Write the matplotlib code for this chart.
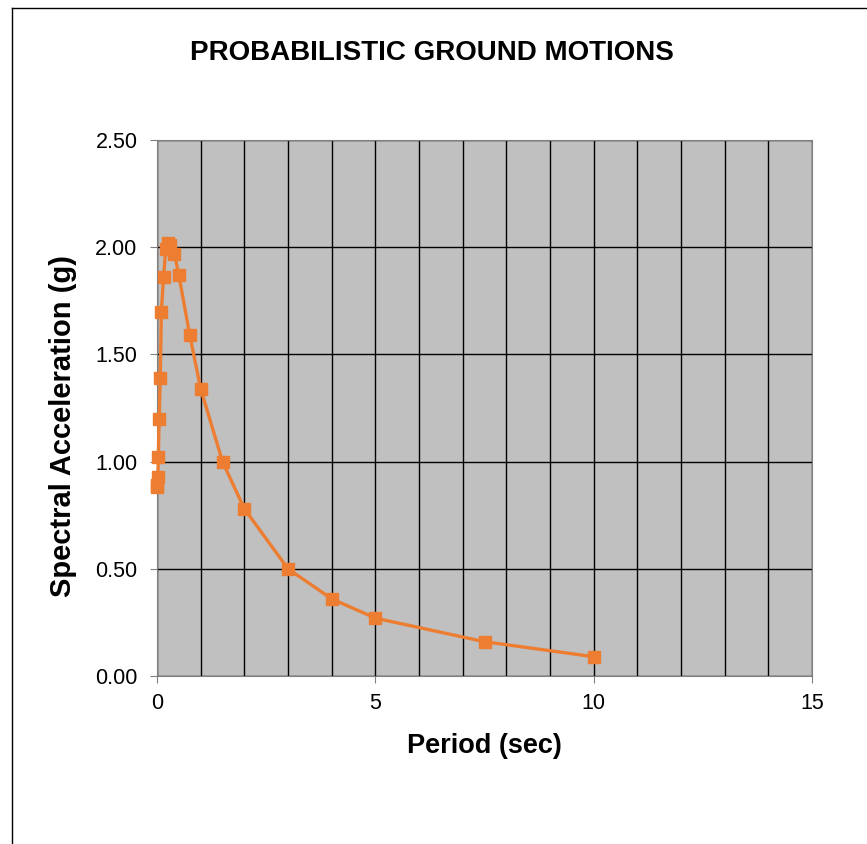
import numpy as np
import matplotlib.pyplot as plt
from matplotlib.lines import Line2D

plt.rcParams['font.family'] = ['Liberation Sans', 'DejaVu Sans']

# periode (s) et acceleration spectrale (g)
period = [0.0, 0.01, 0.02, 0.03, 0.05, 0.075, 0.1, 0.15, 0.2, 0.25, 0.3, 0.4,
          0.5, 0.75, 1.0, 1.5, 2.0, 3.0, 4.0, 5.0, 7.5, 10.0]
sa = [0.88, 0.89, 0.93, 1.02, 1.20, 1.39, 1.70, 1.86, 1.99, 2.02, 2.01, 1.97,
      1.87, 1.59, 1.34, 1.00, 0.78, 0.50, 0.36, 0.27, 0.16, 0.09]

xticks = [0, 5, 10, 15]
yticks = [0.0, 0.5, 1.0, 1.5, 2.0, 2.5]

fig = plt.figure(figsize=(8.67, 8.44), dpi=100)
ax = fig.add_axes([157/867, 1 - 676/844, 655/867, 536/844])

# cadre du graphique
fig.add_artist(Line2D([12/867, 12/867], [0, 1 - 8/844], color='black', lw=1))
fig.add_artist(Line2D([12/867, 1], [1 - 8/844, 1 - 8/844], color='black', lw=1))

ax.set_facecolor('#c0c0c0')
ax.plot(period, sa, color='#ed7d31', lw=2.4, marker='s', markersize=9,
        zorder=3, clip_on=False)

ax.set_xlim(0, 15)
ax.set_ylim(0, 2.5)
ax.set_xticks(xticks)
ax.set_yticks(yticks)
ax.set_yticklabels([f"{v:.2f}" for v in yticks])
ax.set_xticks(np.arange(0, 16, 1), minor=True)
ax.tick_params(which='minor', length=0)
ax.grid(True, which='both', axis='x', color='black', lw=1)
ax.grid(True, which='major', axis='y', color='black', lw=1)
ax.set_axisbelow(True)
ax.tick_params(labelsize=15.5, length=5, color='#808080')
ax.tick_params(axis='x', pad=7)
ax.tick_params(axis='y', pad=9)

for s in ax.spines.values():
    s.set_color('#808080')

ax.set_xlabel("Period (sec)", fontsize=19.5, fontweight='bold', labelpad=14)
ax.set_ylabel("Spectral Acceleration (g)", fontsize=21, fontweight='bold')
ax.yaxis.set_label_coords(-0.122, 0.466)
fig.text(432/867, 1 - 53/844, "PROBABILISTIC GROUND MOTIONS", ha='center',
         va='center', fontsize=20, fontweight='bold')

plt.savefig("out.png", dpi=100)
